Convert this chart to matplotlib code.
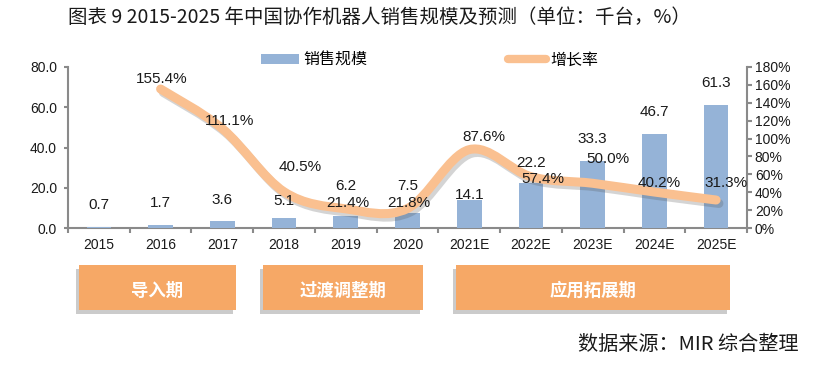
import matplotlib
matplotlib.use("Agg")
import matplotlib.pyplot as plt
import matplotlib.patheffects as pe
from matplotlib.path import Path
from matplotlib.patches import PathPatch, Rectangle, Patch
from matplotlib.lines import Line2D
from matplotlib.ticker import FuncFormatter, MultipleLocator, FixedLocator

plt.rcParams['font.family'] = ['Liberation Sans', 'Noto Sans CJK SC']

# ---------------- data ----------------
years = ['2015', '2016', '2017', '2018', '2019', '2020',
         '2021E', '2022E', '2023E', '2024E', '2025E']
sales = [0.7, 1.7, 3.6, 5.1, 6.2, 7.5, 14.1, 22.2, 33.3, 46.7, 61.3]
growth_years_idx = [1, 2, 3, 4, 5, 6, 7, 8, 9, 10]
growth = [155.4, 111.1, 40.5, 21.4, 21.8, 87.6, 57.4, 50.0, 40.2, 31.3]
phases = ['导入期', '过渡调整期', '应用拓展期']
title = '图表 9 2015-2025 年中国协作机器人销售规模及预测（单位：千台，%）'
source = '数据来源：MIR 综合整理'
legend_labels = ['销售规模', '增长率']

# label placement offsets (pixels)
bar_label_dy = [21.6, 21.6, 20.8, 17, 29.5, 27, 4.6, 20.3, 22, 22, 21.6]
growth_label_dx = [1, 7, 16, 2, 1, 15, 12, 15, 5, 10]
growth_label_dy = [10, 7.6, 25, 6, 5.5, 12.6, -2.3, 24.3, 9, 17]

# ---------------- style ----------------
W, H = 815, 376
BAR_C = '#95B3D7'
LINE_C = '#FAC090'
BOX_C = '#F6A866'
SPINE_C = '#8a8a8a'
TXT_C = '#1a1a1a'

fig = plt.figure(figsize=(W / 100, H / 100), dpi=100)
ax_l, ax_r, ax_b, ax_t = 68, 747, 228, 67
ax = fig.add_axes([ax_l / W, 1 - ax_b / H, (ax_r - ax_l) / W, (ax_b - ax_t) / H])
ax2 = ax.twinx()

x = list(range(len(years)))
ax.bar(x, sales, width=0.4, color=BAR_C, zorder=3)
ax.set_xlim(-0.5, len(years) - 0.5)
ax.set_ylim(0, 80)
ax2.set_ylim(0, 180)

# smooth growth line (Catmull-Rom -> cubic Bezier)
pts = [(growth_years_idx[i], growth[i]) for i in range(len(growth))]
verts = [pts[0]]
codes = [Path.MOVETO]
n = len(pts)
for i in range(n - 1):
    p0 = pts[i - 1] if i > 0 else pts[i]
    p1 = pts[i]
    p2 = pts[i + 1]
    p3 = pts[i + 2] if i + 2 < n else pts[i + 1]
    c1 = (p1[0] + (p2[0] - p0[0]) / 6, p1[1] + (p2[1] - p0[1]) / 6)
    c2 = (p2[0] - (p3[0] - p1[0]) / 6, p2[1] - (p3[1] - p1[1]) / 6)
    verts += [c1, c2, p2]
    codes += [Path.CURVE4] * 3
path = Path(verts, codes)
patch = PathPatch(path, facecolor='none', edgecolor=LINE_C, lw=6.5,
                  capstyle='round', joinstyle='round', zorder=3)
patch.set_path_effects([pe.SimpleLineShadow(offset=(2, -2.5), shadow_color='#555555', alpha=0.25),
                        pe.Normal()])
ax2.add_patch(patch)

# spines & ticks
for a in (ax, ax2):
    a.spines['top'].set_visible(False)
    for s in ('left', 'right', 'bottom'):
        a.spines[s].set_color(SPINE_C)
        a.spines[s].set_linewidth(1.5)
ax.spines['right'].set_visible(False)
ax2.spines['left'].set_visible(False)
ax2.spines['bottom'].set_visible(False)

ax.yaxis.set_major_locator(MultipleLocator(20))
ax.yaxis.set_major_formatter(FuncFormatter(lambda v, p: f'{v:.1f}'))
ax2.yaxis.set_major_locator(MultipleLocator(20))
ax2.yaxis.set_major_formatter(FuncFormatter(lambda v, p: f'{v:.0f}%'))
ax.tick_params(axis='y', direction='out', length=3, width=1.5, color=SPINE_C,
               labelsize=10, labelcolor=TXT_C, pad=5)
ax2.tick_params(axis='y', direction='out', length=3.6, width=1.5, color=SPINE_C,
                labelsize=10, labelcolor=TXT_C, pad=2)

ax.xaxis.set_major_locator(FixedLocator([i - 0.5 for i in range(len(years) + 1)]))
ax.xaxis.set_major_formatter(FuncFormatter(lambda v, p: ''))
ax.xaxis.set_minor_locator(FixedLocator(x))
ax.set_xticklabels(years, minor=True)
ax.tick_params(axis='x', which='major', direction='out', length=3.5, width=1.5, color=SPINE_C)
ax.tick_params(axis='x', which='minor', length=0, labelsize=10, labelcolor=TXT_C, pad=7)

# bar value labels (drawn above the line)
for i, v in enumerate(sales):
    ax2.annotate(f'{v:.1f}', xy=(i, v), xycoords=ax.transData,
                 xytext=(0, bar_label_dy[i]), textcoords='offset pixels',
                 ha='center', va='center', fontsize=11, color=TXT_C, zorder=5,
                 annotation_clip=False)

# growth labels
for k, (i, g) in enumerate(zip(growth_years_idx, growth)):
    ax2.annotate(f'{g:.1f}%', xy=(i, g), xycoords='data',
                 xytext=(growth_label_dx[k], growth_label_dy[k]), textcoords='offset pixels',
                 ha='center', va='center', fontsize=11, color=TXT_C, zorder=6,
                 annotation_clip=False)

# legend
handles = [Patch(facecolor=BAR_C, edgecolor='none'),
           Line2D([], [], color=LINE_C, lw=6, solid_capstyle='round')]
fig.legend(handles, legend_labels, loc='center', bbox_to_anchor=(430 / W, 1 - 60 / H),
           ncol=2, frameon=False, fontsize=11.5, handlelength=2.35, handleheight=0.55,
           handletextpad=0.3, columnspacing=8.8, borderpad=0)

# title & source
fig.text(68 / W, 1 - 17 / H, title, ha='left', va='center', fontsize=14,
         family=['Noto Sans CJK SC', 'DejaVu Sans'], color=TXT_C)
fig.text(798 / W, 1 - 345 / H, source, ha='right', va='center', fontsize=14.5,
         family=['Noto Sans CJK SC', 'DejaVu Sans'], color=TXT_C)

# phase boxes
boxes = [(79, 236), (263, 423), (456, 730)]
by0, by1 = 265, 310
for (bx0, bx1), label in zip(boxes, phases):
    sh = Rectangle(((bx0 - 3) / W, 1 - (by1 + 4) / H), (bx1 - bx0) / W, (by1 - by0) / H,
                   transform=fig.transFigure, facecolor='#7f7f7f', alpha=0.4,
                   edgecolor='none')
    fig.patches.append(sh)
    r = Rectangle((bx0 / W, 1 - by1 / H), (bx1 - bx0) / W, (by1 - by0) / H,
                  transform=fig.transFigure, facecolor=BOX_C, edgecolor='none')
    fig.patches.append(r)
    fig.text((bx0 + bx1) / 2 / W, 1 - 291 / H, label, ha='center', va='center',
             fontsize=12.5, fontweight='bold', color='white',
             family=['Noto Sans CJK SC', 'DejaVu Sans'])

fig.savefig('out.png', dpi=100)
